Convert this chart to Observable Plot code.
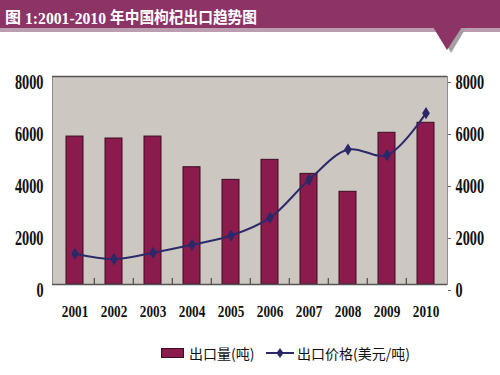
<!DOCTYPE html>
<html>
<head>
<meta charset="utf-8">
<script src="https://cdn.jsdelivr.net/npm/d3@7"></script>
<script src="https://cdn.jsdelivr.net/npm/@observablehq/plot@0.6"></script>
<style>
  html, body { margin: 0; padding: 0; background: #fff; }
  #wrap { position: relative; width: 500px; height: 375px; overflow: hidden; }
  #banner { position: absolute; left: 0; top: 0; }
  #chart { position: absolute; left: 0; top: 0; }
  .leg { position: absolute; font-family: "Noto Sans CJK SC", sans-serif; font-size: 14px; line-height: 14px; color: #111; white-space: nowrap; }
</style>
</head>
<body>
<div id="wrap">
  <div id="chart"></div>
  <svg id="banner" width="500" height="56" xmlns="http://www.w3.org/2000/svg">
    <rect x="0" y="27" width="500" height="5" fill="#bb9fb0"></rect>
    <polygon points="437,28 466,28 451,53" fill="#a5a0a3"></polygon>
    <rect x="0" y="0" width="500" height="28" fill="#8d3467"></rect>
    <polygon points="433,27 462,27 447,50" fill="#8d3467"></polygon>
    <text x="5" y="23" font-family="Noto Sans CJK SC" font-weight="bold" font-size="16" fill="#fff">图</text>
    <text x="25" y="23.5" font-family="Liberation Serif" font-weight="bold" font-size="16.5" fill="#fff" textLength="81" lengthAdjust="spacingAndGlyphs">1:2001-2010</text>
    <text x="110" y="23" font-family="Noto Sans CJK SC" font-weight="bold" font-size="16" fill="#fff" textLength="147" lengthAdjust="spacingAndGlyphs">年中国枸杞出口趋势图</text>
  </svg>
  <svg class="leg" style="left:161px; top:348px;" width="23" height="10"><rect x="0.5" y="0.5" width="22" height="9" fill="#8b1b4c" stroke="#3d0c20"></rect></svg>
  <div class="leg" style="left:189px; top:346px;">出口量(吨)</div>
  <svg class="leg" style="left:265px; top:346px;" width="30" height="14">
    <line x1="1" y1="7" x2="29" y2="7" stroke="#2d2a6a" stroke-width="2"></line>
    <polygon points="15,2 18.5,7 15,12 11.5,7" fill="#2a2866"></polygon>
  </svg>
  <div class="leg" style="left:297px; top:346px;">出口价格(美元/吨)</div>
</div>
<script>
const years = ["2001","2002","2003","2004","2005","2006","2007","2008","2009","2010"];
const volume = [5690, 5615, 5690, 4510, 4025, 4795, 4255, 3565, 5835, 6220]; // 出口量(吨)
const price  = [1180, 975, 1220, 1525, 1885, 2565, 4025, 5190, 4975, 6590];  // 出口价格(美元/吨)
const yTicks = [0, 2000, 4000, 6000, 8000];

const data = years.map((y, i) => ({year: y, volume: volume[i], price: price[i]}));

const diamond = {
  draw(context, size) {
    const r = Math.sqrt(size / Math.PI);
    context.moveTo(0, -1.1 * r);
    context.lineTo(0.7 * r, 0);
    context.lineTo(0, 1.1 * r);
    context.lineTo(-0.7 * r, 0);
    context.closePath();
  }
};

const chart = Plot.plot({
  width: 500,
  height: 375,
  marginTop: 76,
  marginBottom: 91,
  marginLeft: 52,
  marginRight: 53,
  style: {fontFamily: "'Liberation Serif', serif", fontWeight: "bold", background: "transparent", color: "#111"},
  x: {type: "band", domain: years, paddingInner: 0.57, paddingOuter: 0.285, label: null},
  y: {domain: [0, 8000], label: null},
  marks: [
    Plot.frame({fill: "#cdc7c2", stroke: "#8d8d8d"}),
    Plot.ruleX(years.slice(1), {x: d => d, y1: 0, y2: 230, dx: -19.75, stroke: "#333", strokeWidth: 1}),
    Plot.barY(data, {x: "year", y: "volume", fill: "#8b1b4c", stroke: "#3d0c20", strokeWidth: 1}),
    Plot.line(data, {x: "year", y: "price", stroke: "#2d2a6a", strokeWidth: 2, curve: "catmull-rom"}),
    Plot.dot(data, {x: "year", y: "price", symbol: diamond, r: 5.5, fill: "#2a2866", stroke: "none"}),
    Plot.ruleY([8000], {stroke: "#555", strokeWidth: 1.6}),
    Plot.ruleY([0], {stroke: "#555", strokeWidth: 1.4}),
    Plot.axisY({anchor: "left", ticks: yTicks, tickSize: 0, tickPadding: 9, tickFormat: d => String(d), fontSize: 21, dy: 6, label: null}),
    Plot.axisY({anchor: "right", ticks: yTicks, tickSize: 3, tickPadding: 5, tickFormat: d => String(d), fontSize: 21, dy: 6, label: null, stroke: "#666"}),
    Plot.axisX({tickSize: 0, tickPadding: 20, fontSize: 17, label: null})
  ]
});
document.getElementById("chart").appendChild(chart);

// condense axis digits like the reference's narrow bold serif
function condense(selector, ratio) {
  chart.querySelectorAll(selector).forEach(t => {
    const w = t.getComputedTextLength();
    if (w > 0) {
      t.setAttribute("textLength", (w * ratio).toFixed(1));
      t.setAttribute("lengthAdjust", "spacingAndGlyphs");
    }
  });
}
condense('g[aria-label="y-axis tick label"] text', 0.68);
condense('g[aria-label="x-axis tick label"] text', 0.78);
</script>
</body>
</html>
